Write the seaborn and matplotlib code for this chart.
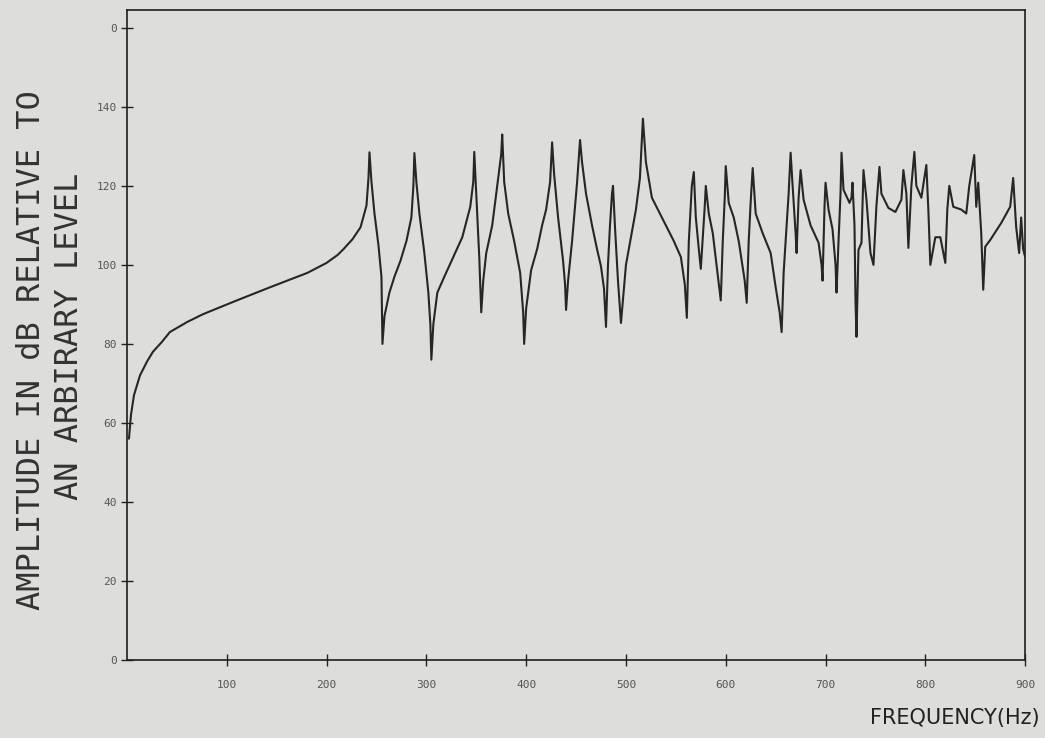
import seaborn as sns
import matplotlib.pyplot as plt

# Frequency response (Hz, dB)
freq = [2, 4, 7, 13, 20, 26, 35, 43, 60, 76, 110, 144, 181, 200, 211,
        217, 226, 234, 240, 242, 243, 245, 248, 252, 255, 256, 258, 263, 268, 274,
        280, 285, 287, 288, 290, 293, 298, 302, 304, 305, 307, 311, 318, 327,
        336, 344, 347, 348, 350, 353, 355, 357, 360, 366, 371, 375, 376, 378,
        382, 388, 394, 397, 398, 400, 405, 411, 416, 420, 424, 426, 428, 432,
        437, 439, 440, 442, 446, 451, 454, 456, 460, 466, 471, 475, 478, 480,
        482, 484, 486, 487, 489, 492, 495, 500, 505, 510, 514, 517, 520, 526,
        532, 540, 548, 555, 559, 561, 563, 566, 568, 570, 573, 575, 577, 579,
        580, 583, 587, 591, 594, 595, 597, 599, 600, 603, 608, 613, 616, 619,
        621, 623, 625, 627, 630, 637, 645, 650, 654, 656, 658, 661, 663, 665,
        667, 670, 671, 673, 675, 678, 685, 693, 696, 697, 699, 700, 703, 707,
        710, 711, 713, 715, 716, 718, 724, 726, 727, 729, 730, 731, 733, 736,
        738, 741, 745, 748, 751, 754, 756, 763, 770, 776, 778, 781, 783, 786,
        789, 791, 796, 801, 803, 805, 810, 815, 820, 822, 824, 828, 836, 841,
        844, 849, 851, 853, 856, 858, 860, 865, 876, 885, 888, 891, 894, 896,
        898, 900]
amp = [56, 62, 67, 72, 75.5, 78, 80.5, 83, 85.5, 87.5, 91, 94.4, 98, 100.5, 102.5,
       104, 106.5, 109.5, 115, 122, 128.5, 121, 113, 105, 97, 80, 87, 93, 97, 101,
       106, 112, 120, 128.3, 121, 113, 103, 93, 85, 76, 85, 93, 97, 102,
       107, 114.7, 121, 128.6, 118, 102, 88, 96, 103, 110, 120, 128, 133, 121,
       113, 106, 98, 88, 80, 89, 98.7, 104, 110, 114, 121, 131, 123, 112,
       101, 95, 88.6, 96, 106, 120.8, 131.6, 126, 118, 110, 104, 99.6, 94, 84.3,
       100, 110, 118, 120, 109.6, 96, 85.3, 100, 107, 114, 122, 137, 126, 117,
       114, 110, 106, 102, 95, 86.6, 106, 120, 123.5, 112, 104, 99, 107, 115,
       120, 113, 108, 99.5, 93, 91, 106, 117, 125, 115.7, 112, 106, 101, 96,
       90.4, 106, 116, 124.5, 113, 108, 103, 94.4, 88, 83, 98, 110, 118, 128.4,
       120, 108, 103, 117, 124, 116.5, 110, 105.6, 100, 96, 115, 120.8, 114, 109,
       100, 93, 106, 118, 128.4, 119, 115.7, 117, 120.8, 110, 91, 81.8, 103.8, 105.6,
       124, 116.5, 103, 100, 115, 124.8, 118, 114.4, 113.4, 116.5, 124, 118, 104.3, 120,
       128.6, 120, 117, 125.3, 114, 100, 107, 107, 100.5, 114, 120, 114.7, 114, 113,
       120, 127.8, 114.7, 120.8, 108, 93.7, 104.6, 106.3, 110.6, 114.7, 122, 109.6, 103, 112,
       104, 102]

y_ticks = [0, 20, 40, 60, 80, 100, 120, 140, 160]
y_ticklabels = ['0', '20', '40', '60', '80', '100', '120', '140', '0']
x_ticks = [100, 200, 300, 400, 500, 600, 700, 800, 900]

paper = '#dddddb'
sns.set_style('white')

fig, ax = plt.subplots(figsize=(10.45, 7.38), dpi=100)
fig.patch.set_facecolor(paper)
ax.set_facecolor(paper)
fig.subplots_adjust(left=0.1215, right=0.981, bottom=0.1057, top=0.9864)

sns.lineplot(x=freq, y=amp, estimator=None, sort=False, color='#262626',
             linewidth=1.5, ax=ax)

ax.set_xlim(0, 900)
ax.set_ylim(0, 164.5)
ax.set_xticks(x_ticks)
ax.set_xticklabels([str(v) for v in x_ticks])
ax.set_yticks(y_ticks)
ax.set_yticklabels(y_ticklabels)
ax.tick_params(axis='both', bottom=True, left=True, direction='inout', length=9,
               width=1, color='#222', labelsize=8, labelcolor='#555')
ax.tick_params(axis='x', pad=10)
ax.tick_params(axis='y', pad=3)
for lab in ax.get_xticklabels() + ax.get_yticklabels():
    lab.set_family('DejaVu Sans Mono')

for side in ['left', 'right', 'top', 'bottom']:
    ax.spines[side].set_visible(True)
    ax.spines[side].set_color('#1e1e1e')
    ax.spines[side].set_linewidth(1.2)
ax.spines['bottom'].set_linestyle((0, (24, 1)))

ax.set_xlabel('')
ax.set_ylabel('')

# two-line y label, line printer style
fig.text(32 / 1045, 1 - 350 / 738, 'AMPLITUDE IN dB RELATIVE TO', rotation=90,
         ha='center', va='center', family='DejaVu Sans Mono', fontsize=23, color='#333')
fig.text(70 / 1045, 1 - 336 / 738, 'AN ARBIRARY LEVEL', rotation=90,
         ha='center', va='center', family='DejaVu Sans Mono', fontsize=23, color='#333')

# hand written x label
fig.text(1040 / 1045, 1 - 718 / 738, 'FREQUENCY(Hz)', ha='right', va='center',
         fontsize=15, color='#222')

plt.savefig('out.png', dpi=100, facecolor=paper)
